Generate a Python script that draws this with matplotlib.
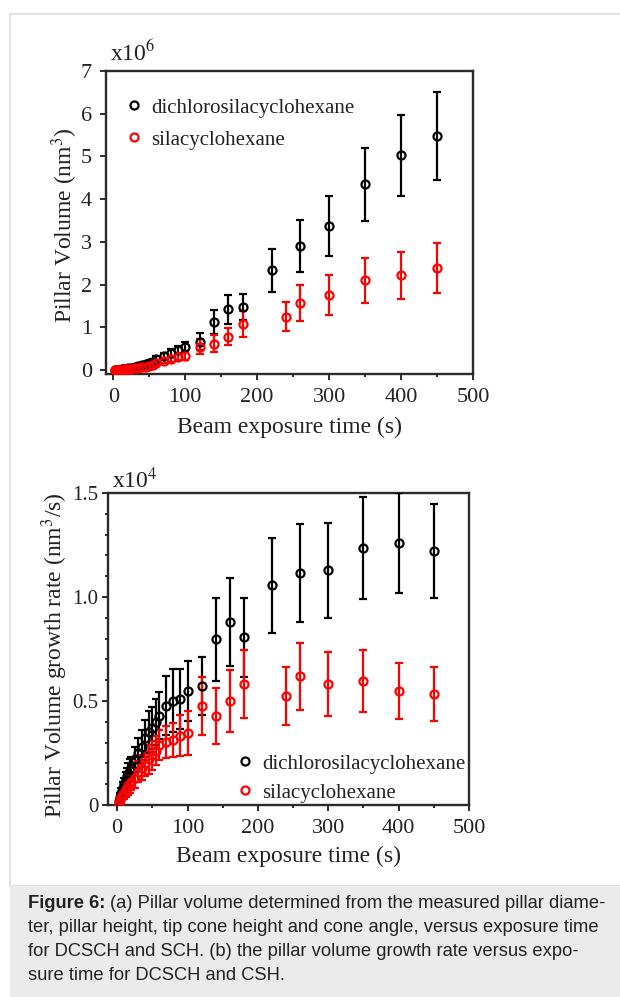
import numpy as np
import matplotlib
matplotlib.use("Agg")
import matplotlib.pyplot as plt
from matplotlib.patches import Rectangle
from matplotlib.lines import Line2D
from matplotlib.ticker import MultipleLocator

# exposure times (s)
t_dc = [2, 4, 6, 8, 10, 12, 14, 16, 18, 20, 25, 30, 35, 40, 45, 50, 55, 60,
        70, 80, 90, 100, 120, 140, 160, 180, 220, 260, 300, 350, 400, 450]
t_sch = [2, 4, 6, 8, 10, 12, 14, 16, 18, 20, 25, 30, 35, 40, 45, 50, 55, 60,
         70, 80, 90, 100, 120, 140, 160, 180, 240, 260, 300, 350, 400, 450]

# (a) pillar volume, x10^6 nm^3
vol_dc = [0.00, 0.00, 0.01, 0.01, 0.01, 0.02, 0.02, 0.03, 0.03, 0.04, 0.05, 0.07,
          0.09, 0.11, 0.14, 0.17, 0.20, 0.25, 0.33, 0.40, 0.47, 0.55, 0.66, 1.13,
          1.42, 1.48, 2.34, 2.91, 3.37, 4.35, 5.03, 5.49]
vol_dc_err = [0.01, 0.01, 0.01, 0.01, 0.01, 0.01, 0.02, 0.02, 0.02, 0.02, 0.03, 0.03,
              0.04, 0.04, 0.05, 0.05, 0.06, 0.07, 0.08, 0.09, 0.10, 0.10, 0.20, 0.28,
              0.33, 0.31, 0.50, 0.61, 0.70, 0.85, 0.95, 1.03]
vol_sch = [0.00, 0.00, 0.005, 0.01, 0.01, 0.01, 0.015, 0.02, 0.02, 0.025, 0.03, 0.04,
           0.05, 0.07, 0.08, 0.10, 0.12, 0.16, 0.22, 0.27, 0.31, 0.33, 0.55, 0.62,
           0.78, 1.08, 1.25, 1.58, 1.76, 2.10, 2.22, 2.39]
vol_sch_err = [0.01, 0.01, 0.01, 0.01, 0.01, 0.01, 0.01, 0.01, 0.01, 0.02, 0.02, 0.02,
               0.03, 0.03, 0.03, 0.04, 0.04, 0.05, 0.06, 0.07, 0.08, 0.10, 0.18, 0.20,
               0.20, 0.30, 0.34, 0.42, 0.46, 0.52, 0.55, 0.59]

# (b) growth rate, x10^4 nm^3/s
rate_dc = [0.02, 0.04, 0.06, 0.08, 0.10, 0.12, 0.14, 0.15, 0.17, 0.18, 0.22, 0.25,
           0.28, 0.32, 0.35, 0.37, 0.40, 0.43, 0.478, 0.502, 0.510, 0.549, 0.571, 0.796,
           0.879, 0.807, 1.056, 1.115, 1.128, 1.234, 1.258, 1.222]
rate_dc_err = [0.01, 0.02, 0.02, 0.03, 0.03, 0.04, 0.04, 0.05, 0.05, 0.05, 0.06, 0.07,
               0.08, 0.09, 0.10, 0.10, 0.11, 0.115, 0.14, 0.15, 0.145, 0.145, 0.14, 0.20,
               0.21, 0.19, 0.23, 0.235, 0.23, 0.245, 0.24, 0.225]
rate_sch = [0.01, 0.025, 0.04, 0.05, 0.06, 0.07, 0.08, 0.09, 0.10, 0.11, 0.13, 0.16,
            0.18, 0.20, 0.22, 0.24, 0.26, 0.289, 0.302, 0.313, 0.334, 0.347, 0.476, 0.428,
            0.500, 0.582, 0.523, 0.618, 0.582, 0.595, 0.549, 0.534]
rate_sch_err = [0.01, 0.01, 0.02, 0.02, 0.03, 0.03, 0.03, 0.04, 0.04, 0.04, 0.05, 0.05,
                0.06, 0.06, 0.07, 0.07, 0.07, 0.072, 0.076, 0.08, 0.10, 0.105, 0.14, 0.133,
                0.147, 0.165, 0.14, 0.16, 0.155, 0.148, 0.135, 0.13]

labels = ['dichlorosilacyclohexane', 'silacyclohexane']
caption_head = 'Figure 6:'
caption_lines = [
    "(a) Pillar volume determined from the measured pillar diame-",
    "ter, pillar height, tip cone height and cone angle, versus exposure time",
    "for DCSCH and SCH. (b) the pillar volume growth rate versus expo-",
    "sure time for DCSCH and CSH.",
]

plt.rcParams['font.family'] = ['Liberation Serif', 'DejaVu Serif']
plt.rcParams['mathtext.fontset'] = 'stix'

W, H = 620, 997
fig = plt.figure(figsize=(W / 100, H / 100), dpi=100)


def fx(px):
    return px / W


def fy(py):
    return 1 - py / H


# panel frame and caption background
fig.patches.append(Rectangle((fx(10), fy(886)), fx(640), fy(14) - fy(886),
                             transform=fig.transFigure, fill=False,
                             edgecolor='#e3e3e3', linewidth=1.5))
fig.patches.append(Rectangle((fx(10), 0), fx(620), fy(886),
                             transform=fig.transFigure, facecolor='#ebebeb',
                             edgecolor='none'))

spine_col = '#2b2b2b'
txt_col = '#222222'
fs = 16
ms = 5.8


def style(ax):
    for s in ax.spines.values():
        s.set_linewidth(1.7)
        s.set_color(spine_col)
    ax.tick_params(which='major', direction='out', length=4, width=1.4,
                   labelsize=fs, colors=spine_col, labelcolor=txt_col, pad=6)
    ax.tick_params(which='minor', direction='out', length=2.5, width=1.4,
                   colors=spine_col)
    ax.xaxis.set_minor_locator(MultipleLocator(50))


def series(ax, x, y, e, col):
    ax.errorbar(x, y, yerr=e, fmt='o', ms=ms, mfc='none', mec=col, mew=1.6,
                ecolor=col, elinewidth=1.6, capsize=3, capthick=1.6, zorder=3)


def legend(ax, anchor, spacing):
    handles = [Line2D([], [], ls='none', marker='o', ms=ms, mfc='none',
                      mec=c, mew=1.6) for c in ('black', 'red')]
    leg = ax.legend(handles, labels, loc='upper left', bbox_to_anchor=anchor,
                    frameon=False, fontsize=15, handletextpad=0.3,
                    labelspacing=spacing, handlelength=1.0, borderpad=0,
                    borderaxespad=0)
    for t in leg.get_texts():
        t.set_color(txt_col)


# (a)
ax1 = fig.add_axes([fx(106), fy(374), fx(473) - fx(106), fy(71) - fy(374)])
style(ax1)
series(ax1, t_dc, vol_dc, vol_dc_err, 'black')
series(ax1, t_sch, vol_sch, vol_sch_err, 'red')
ax1.set_xlim(-10, 500)
ax1.set_ylim(-0.09, 7)
ax1.set_xticks([0, 100, 200, 300, 400, 500])
ax1.set_yticks(range(8))
ax1.set_xlabel('Beam exposure time (s)', fontsize=fs + 1, color=txt_col, labelpad=7)
ax1.set_ylabel('Pillar Volume (nm$^3$)', fontsize=fs + 1, color=txt_col)
ax1.yaxis.set_label_coords((80 - 106) / 367, 0.49)
ax1.text(0.01, 1.015, r'x10$^{6}$', transform=ax1.transAxes, fontsize=fs + 1,
         color=txt_col, ha='left', va='bottom')
legend(ax1, ((124 - 106) / 367, (71 - 98) / 303 + 1), 0.6)

# (b)
ax2 = fig.add_axes([fx(108), fy(805), fx(469) - fx(108), fy(493) - fy(805)])
style(ax2)
ax2.tick_params(axis='y', which='major', pad=3, labelsize=15)
series(ax2, t_dc, rate_dc, rate_dc_err, 'black')
series(ax2, t_sch, rate_sch, rate_sch_err, 'red')
ax2.set_xlim(-13, 500)
ax2.set_ylim(0, 1.5)
ax2.set_xticks([0, 100, 200, 300, 400, 500])
ax2.set_yticks([0, 0.5, 1.0, 1.5])
ax2.set_yticklabels(['0', '0.5', '1.0', '1.5'])
ax2.yaxis.set_minor_locator(MultipleLocator(0.1))
ax2.set_xlabel('Beam exposure time (s)', fontsize=fs + 1, color=txt_col, labelpad=6)
ax2.set_ylabel('Pillar Volume growth rate (nm$^3$/s)', fontsize=fs + 1,
               color=txt_col)
ax2.yaxis.set_label_coords((70 - 108) / 361, 0.48)
ax2.text(0.01, 1.0, r'x10$^{4}$', transform=ax2.transAxes, fontsize=fs + 1,
         color=txt_col, ha='left', va='bottom')
legend(ax2, ((235 - 108) / 361, 1 - (754 - 493) / 312), 0.45)

# caption
cap_fs = 13.2
fig.canvas.draw()
head = fig.text(fx(28), fy(903), caption_head, fontsize=cap_fs, fontweight='bold',
                family='Liberation Sans', va='center', ha='left', color=txt_col)
r = fig.canvas.get_renderer()
bb = head.get_window_extent(renderer=r)
x_after = (bb.x1 + 5) / W
for i, line in enumerate(caption_lines):
    x0 = x_after if i == 0 else fx(28)
    fig.text(x0, fy(903 + 24 * i), line, fontsize=cap_fs, family='Liberation Sans',
             va='center', ha='left', color=txt_col)

fig.savefig('out.png', dpi=100)
